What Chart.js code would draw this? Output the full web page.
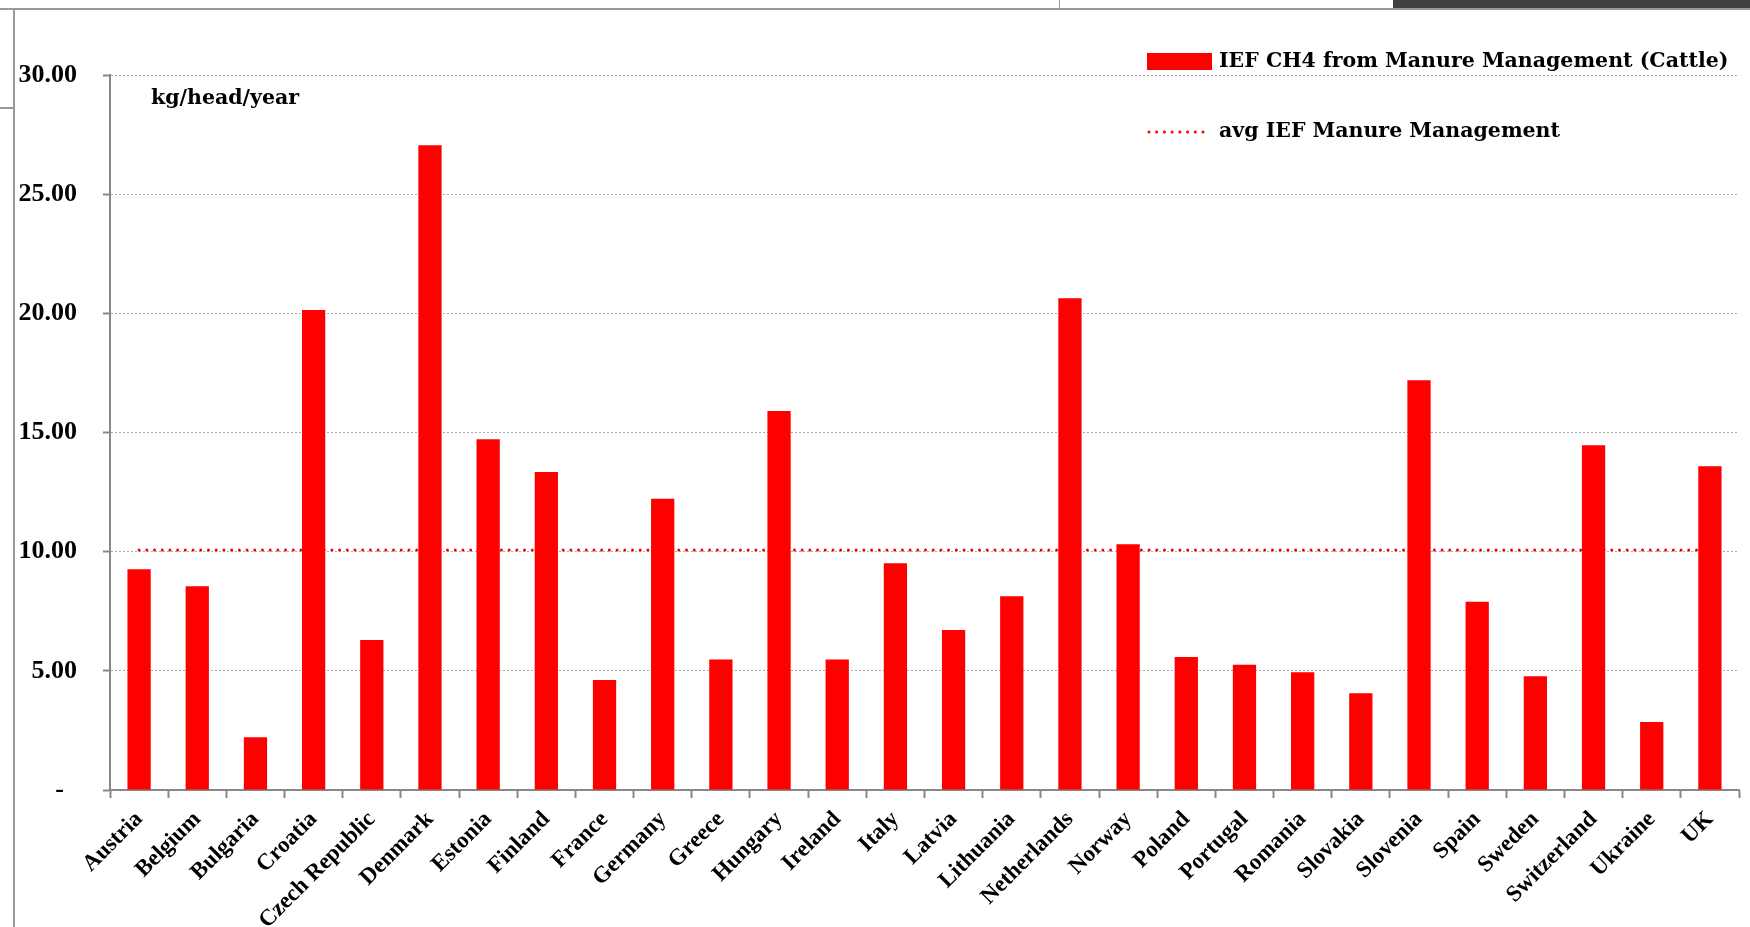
<!DOCTYPE html>
<html>
<head>
<meta charset="utf-8">
<script src="https://cdn.jsdelivr.net/npm/chart.js@4.4.0/dist/chart.umd.min.js"></script>
<style>
  html, body { margin: 0; padding: 0; background: #fff; }
  #wrap { position: relative; width: 1750px; height: 927px; overflow: hidden; background: #fff; }
  #chart { position: absolute; left: 0; top: 0; }
  .frame { position: absolute; background: #999; }
</style>
</head>
<body>
<div id="wrap">
  <canvas id="chart" width="1750" height="927"></canvas>
  <div class="frame" style="left:0;top:8px;width:1750px;height:2px"></div>
  <div class="frame" style="left:13px;top:8px;width:2px;height:919px"></div>
  <div class="frame" style="left:0;top:107px;width:14px;height:2px"></div>
  <div class="frame" style="left:1059px;top:0;width:1px;height:9px"></div>
  <div style="position:absolute;left:1393px;top:0;width:357px;height:8px;background:#404040"></div>
</div>
<script>
// Chart data
const countries = ['Austria', 'Belgium', 'Bulgaria', 'Croatia', 'Czech Republic', 'Denmark', 'Estonia',
    'Finland', 'France', 'Germany', 'Greece', 'Hungary', 'Ireland', 'Italy', 'Latvia', 'Lithuania',
    'Netherlands', 'Norway', 'Poland', 'Portugal', 'Romania', 'Slovakia', 'Slovenia', 'Spain',
    'Sweden', 'Switzerland', 'Ukraine', 'UK'];
const iefCattle = [9.26, 8.55, 2.21, 20.14, 6.29, 27.05, 14.72, 13.34, 4.62, 12.22, 5.48, 15.90, 5.48,
    9.51, 6.71, 8.13, 20.63, 10.31, 5.58, 5.26, 4.94, 4.06, 17.19, 7.90, 4.77, 14.46, 2.85, 13.58];
const avgIef = 10.07;
const yTicks = [0, 5, 10, 15, 20, 25, 30];
const unitLabel = 'kg/head/year';
const barLabel = 'IEF CH4 from Manure Management (Cattle)';
const avgLabel = 'avg IEF Manure Management';

const RED = '#ff0000';
const AXIS = '#888';
const numFont = {family: 'Liberation Serif', size: 26, weight: 'bold'};
const textFont = 'bold 20.5px "DejaVu Serif"';

// Unit label and legend drawn on top of the chart
const overlay = {
    id: 'overlay',
    afterDraw(chart) {
        const ctx = chart.ctx;
        const a = chart.chartArea;
        const bar = chart.data.datasets[0];
        const avg = chart.data.datasets[1];
        ctx.save();
        ctx.fillStyle = '#000';
        ctx.font = textFont;
        ctx.textBaseline = 'middle';
        ctx.fillText(unitLabel, a.left + 41, a.top + 24);

        // legend
        const lx = 1147;
        ctx.fillStyle = bar.backgroundColor;
        ctx.fillRect(lx, 53, 65, 17);
        ctx.fillStyle = '#000';
        ctx.fillText(bar.label, lx + 72, 62);

        ctx.strokeStyle = avg.borderColor;
        ctx.lineWidth = avg.borderWidth;
        ctx.lineCap = 'round';
        ctx.setLineDash(avg.borderDash);
        ctx.beginPath();
        ctx.moveTo(lx + 2, 132);
        ctx.lineTo(lx + 58, 132);
        ctx.stroke();
        ctx.setLineDash([]);
        ctx.fillText(avg.label, lx + 72, 132);
        ctx.restore();
    }
};

const ctx = document.getElementById('chart').getContext('2d');
const chart = new Chart(ctx, {
    data: {
        labels: countries,
        datasets: [
            {
                type: 'bar',
                label: barLabel,
                data: iefCattle,
                backgroundColor: RED,
                barPercentage: 0.4,
                categoryPercentage: 1.0,
                order: 1
            },
            {
                type: 'line',
                label: avgLabel,
                data: countries.map(() => avgIef),
                borderColor: RED,
                borderWidth: 3,
                borderDash: [0.01, 7.7],
                borderCapStyle: 'round',
                pointRadius: 0,
                fill: false,
                order: 2
            }
        ]
    },
    options: {
        responsive: false,
        animation: false,
        layout: {padding: {left: 0, right: 11, top: 75, bottom: 0}},
        plugins: {
            legend: {display: false},
            tooltip: {enabled: false}
        },
        scales: {
            x: {
                offset: true,
                ticks: {
                    color: '#000',
                    font: {family: 'Liberation Serif', size: 23, weight: 'bold'},
                    minRotation: 45,
                    maxRotation: 45,
                    autoSkip: false,
                    padding: 8
                },
                grid: {offset: true, drawOnChartArea: false, tickLength: 8, tickColor: AXIS, tickWidth: 2, color: AXIS},
                border: {color: AXIS, width: 2},
                afterFit: s => { s.height = 137; }
            },
            y: {
                min: 0,
                max: 30,
                afterBuildTicks: s => { s.ticks = yTicks.map(v => ({value: v})); },
                ticks: {
                    color: '#000',
                    font: numFont,
                    padding: 26,
                    callback: v => v === 0 ? '-  ' : Number(v).toFixed(2)
                },
                grid: {
                    color: c => (c.tick && c.tick.value === 0) ? 'rgba(0,0,0,0)' : '#aaa',
                    lineWidth: 1,
                    tickLength: 7,
                    tickColor: AXIS,
                    tickWidth: 2
                },
                border: {color: AXIS, width: 2, dash: [2, 2]},
                afterFit: s => { s.width = 110; }
            }
        }
    },
    plugins: [overlay]
});
</script>
</body>
</html>
